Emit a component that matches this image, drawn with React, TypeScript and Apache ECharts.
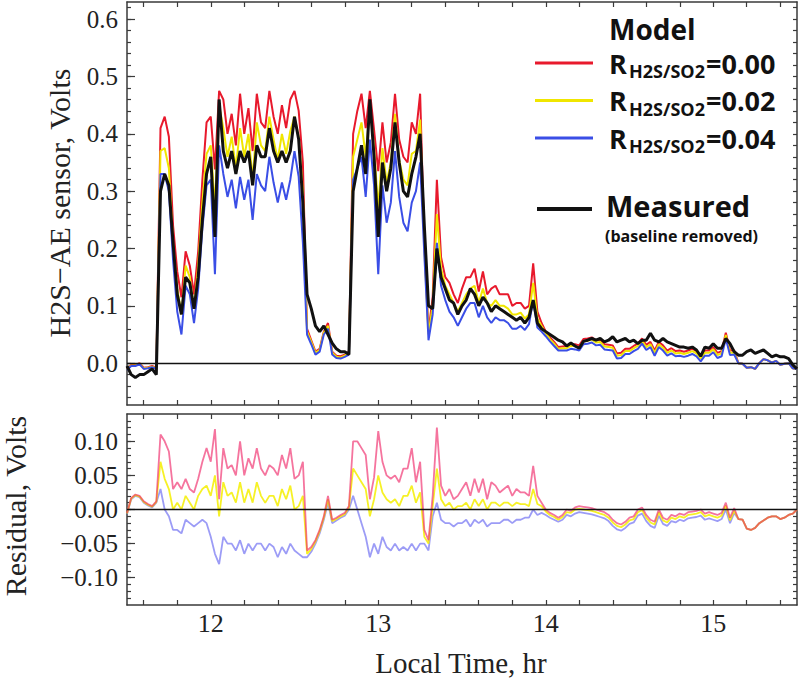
import React, { useEffect, useRef } from "react";
import * as echarts from "echarts";

// sampling of the time series (hours)
const T0 = 11.5;
const DT = 0.025;

// Measured H2S-AE sensor signal (baseline removed), Volts
const measured = [
  -0.005, -0.02, -0.025, -0.02, -0.02, -0.015, -0.01, -0.02,
  0.30, 0.33, 0.31, 0.21, 0.12, 0.085, 0.15, 0.14, 0.095, 0.15, 0.25, 0.33,
  0.36, 0.22, 0.46, 0.37, 0.34, 0.37, 0.33, 0.37, 0.35, 0.37,
  0.31, 0.38, 0.36, 0.36, 0.41, 0.37, 0.35, 0.37, 0.35, 0.37,
  0.43, 0.39, 0.28, 0.12, 0.095, 0.065, 0.055, 0.065, 0.05, 0.035,
  0.025, 0.02, 0.02, 0.015, 0.30, 0.34, 0.38, 0.33, 0.46, 0.36,
  0.22, 0.35, 0.30, 0.34, 0.42, 0.35, 0.30, 0.29, 0.33, 0.36,
  0.40, 0.24, 0.10, 0.095, 0.20, 0.15, 0.13, 0.11, 0.105, 0.085,
  0.10, 0.11, 0.13, 0.12, 0.10, 0.115, 0.105, 0.09, 0.10, 0.095,
  0.09, 0.085, 0.08, 0.075, 0.08, 0.07, 0.08, 0.11, 0.07, 0.06,
  0.055, 0.05, 0.045, 0.04, 0.037, 0.03, 0.035, 0.03, 0.026, 0.038,
  0.04, 0.043, 0.04, 0.043, 0.037, 0.04, 0.046, 0.037, 0.04, 0.043,
  0.037, 0.04, 0.034, 0.04, 0.04, 0.052, 0.04, 0.037, 0.043, 0.037,
  0.034, 0.031, 0.028, 0.028, 0.026, 0.028, 0.023, 0.012, 0.028, 0.026,
  0.034, 0.026, 0.026, 0.043, 0.034, 0.02, 0.014, 0.014, 0.02, 0.023,
  0.017, 0.02, 0.023, 0.017, 0.011, 0.014, 0.011, 0.011, 0.008, -0.003, -0.01,
];

// Residual (model - measured) for R = 0.00
const residual000 = [
  -0.005, 0.017, 0.022, 0.02, 0.012, 0.008, 0.005, 0.012,
  0.11, 0.10, 0.085, 0.03, 0.04, 0.03, 0.045, 0.03, 0.025, 0.045, 0.07, 0.09,
  0.07, 0.118, 0.015, 0.09, 0.06, 0.065, 0.05, 0.10, 0.05, 0.075,
  0.06, 0.09, 0.06, 0.05, 0.065, 0.06, 0.05, 0.08, 0.06, 0.09,
  0.045, 0.05, 0.07, -0.06, -0.055, -0.045, -0.03, -0.01, 0.02, -0.015,
  -0.012, -0.008, -0.005, 0.005, 0.10, 0.10, 0.09, 0.08, 0.015, 0.047,
  0.115, 0.07, 0.05, 0.045, 0.05, 0.04, 0.06, 0.06, 0.09, 0.04,
  0.07, -0.03, -0.045, 0.02, 0.12, 0.035, 0.02, 0.03, 0.015, 0.02,
  0.03, 0.04, 0.02, 0.045, 0.025, 0.045, 0.015, 0.04, 0.035, 0.025,
  0.03, 0.035, 0.02, 0.03, 0.025, 0.025, 0.02, 0.064, 0.02, 0.01,
  0.0, -0.005, -0.008, -0.012, -0.008, 0.0, -0.002, 0.003, 0.005, 0.004,
  0.003, 0.002, 0.0, -0.002, -0.004, -0.008, -0.015, -0.02, -0.022, -0.018,
  -0.012, -0.01, 0.0, 0.003, -0.008, -0.015, -0.018, 0.0, -0.012, -0.015,
  -0.008, -0.01, -0.006, -0.008, -0.004, -0.003, -0.002, 0.0, -0.006, -0.004,
  -0.006, -0.008, -0.005, 0.01, -0.012, 0.002, -0.014, -0.015, -0.028, -0.03,
  -0.027, -0.02, -0.016, -0.012, -0.01, -0.01, -0.014, -0.012, -0.008, -0.006, 0.0,
];

// Residual for R = 0.02
const residual002 = [
  -0.006, 0.016, 0.021, 0.019, 0.011, 0.007, 0.004, 0.011,
  0.07, 0.045, 0.03, 0.0, 0.01, 0.0, 0.02, 0.01, 0.0, 0.02, 0.03, 0.035,
  0.02, 0.05, -0.01, 0.04, 0.02, 0.025, 0.01, 0.04, 0.01, 0.03,
  0.01, 0.04, 0.02, 0.01, 0.02, 0.02, 0.005, 0.03, 0.015, 0.035,
  0.0, 0.005, 0.02, -0.065, -0.058, -0.047, -0.032, -0.012, 0.015, -0.017,
  -0.014, -0.01, -0.007, 0.003, 0.06, 0.05, 0.04, 0.03, -0.01, 0.015,
  0.05, 0.025, 0.015, 0.01, 0.015, 0.005, 0.02, 0.02, 0.035, 0.01,
  0.025, -0.04, -0.05, 0.005, 0.06, 0.015, 0.005, 0.01, 0.0, 0.005,
  0.005, 0.01, 0.0, 0.015, 0.005, 0.015, 0.0, 0.01, 0.01, 0.005,
  0.01, 0.01, 0.005, 0.01, 0.008, 0.008, 0.005, 0.03, 0.008, 0.005,
  -0.003, -0.008, -0.011, -0.015, -0.011, -0.004, -0.005, 0.0, 0.001, 0.0,
  -0.001, -0.002, -0.004, -0.006, -0.008, -0.012, -0.019, -0.024, -0.026, -0.022,
  -0.016, -0.014, -0.004, -0.001, -0.012, -0.019, -0.022, -0.004, -0.016, -0.019,
  -0.012, -0.014, -0.01, -0.012, -0.008, -0.007, -0.006, -0.004, -0.01, -0.008,
  -0.01, -0.012, -0.009, 0.006, -0.016, -0.002, -0.014, -0.015, -0.028, -0.03,
  -0.027, -0.02, -0.016, -0.012, -0.01, -0.01, -0.014, -0.012, -0.008, -0.006, 0.0,
];

// Residual for R = 0.04
const residual004 = [
  -0.007, 0.015, 0.02, 0.018, 0.01, 0.006, 0.003, 0.01,
  0.03, 0.0, -0.01, -0.03, -0.03, -0.035, -0.015, -0.02, -0.025, -0.02, -0.015, -0.02,
  -0.04, -0.065, -0.08, -0.04, -0.05, -0.05, -0.06, -0.045, -0.065, -0.05,
  -0.06, -0.05, -0.05, -0.06, -0.05, -0.055, -0.07, -0.055, -0.065, -0.05,
  -0.06, -0.065, -0.07, -0.07, -0.062, -0.05, -0.035, -0.015, 0.01, -0.02,
  -0.016, -0.012, -0.009, 0.0, 0.02, 0.0, -0.02, -0.04, -0.07, -0.05,
  -0.065, -0.04, -0.055, -0.06, -0.05, -0.06, -0.055, -0.06, -0.05, -0.06,
  -0.05, -0.05, -0.06, -0.01, 0.01, -0.015, -0.02, -0.02, -0.025, -0.02,
  -0.02, -0.015, -0.025, -0.015, -0.02, -0.015, -0.025, -0.02, -0.02, -0.02,
  -0.015, -0.015, -0.02, -0.015, -0.015, -0.012, -0.012, 0.0, -0.008, -0.005,
  -0.008, -0.012, -0.015, -0.018, -0.015, -0.008, -0.01, -0.006, -0.004, -0.005,
  -0.006, -0.007, -0.009, -0.011, -0.013, -0.017, -0.024, -0.029, -0.031, -0.027,
  -0.021, -0.019, -0.009, -0.006, -0.017, -0.024, -0.027, -0.009, -0.021, -0.024,
  -0.017, -0.019, -0.015, -0.017, -0.013, -0.012, -0.011, -0.009, -0.015, -0.013,
  -0.015, -0.017, -0.014, 0.0, -0.02, -0.005, -0.014, -0.015, -0.028, -0.03,
  -0.027, -0.02, -0.016, -0.012, -0.01, -0.01, -0.014, -0.012, -0.008, -0.006, 0.0,
];

// axis tick / label values
const xTickValues = [11.6, 11.8, 12, 12.2, 12.4, 12.6, 12.8, 13, 13.2, 13.4, 13.6, 13.8, 14, 14.2, 14.4, 14.6, 14.8, 15, 15.2, 15.4];
const xLabelValues = [12, 13, 14, 15];
const topYLabelValues = [0, 0.1, 0.2, 0.3, 0.4, 0.5, 0.6];
const bottomYLabelValues = [-0.1, -0.05, 0, 0.05, 0.1];

const legendNames = ["=0.00", "=0.02", "=0.04"];

const times = measured.map((_, i) => +(T0 + i * DT).toFixed(4));
const pairs = (vals: number[]) => vals.map((v, i) => [times[i], v]);
const modelFrom = (res: number[]) => measured.map((m, i) => +(m + res[i]).toFixed(4));

const stepValues = (from: number, to: number, step: number) => {
  const out: number[] = [];
  const n = Math.round((to - from) / step);
  for (let k = 0; k <= n; k++) out.push(+(from + k * step).toFixed(4));
  return out;
};
const topYMinor = stepValues(-0.06, 0.62, 0.02);
const bottomYMinor = stepValues(-0.13, 0.13, 0.01);

const FRAME = "#3a3a3a";
const SERIF = '"Liberation Serif", "Times New Roman", serif';
const SANS = '"Open Sans", "Noto Sans", sans-serif';

const RED = "#e8192c";
const YELLOW = "#f0e600";
const BLUE = "#3a4ee6";

export default function App() {
  const ref = useRef<HTMLDivElement>(null);

  useEffect(() => {
    document.body.style.margin = "0";
    if (!ref.current) return;
    const chart = echarts.init(ref.current, undefined, { renderer: "svg" });

    const lineStyle = { color: FRAME, width: 1.5 };
    const xAx = (gridIndex: number, position: string, labels: boolean) => ({
      type: "value",
      gridIndex,
      position,
      min: 11.5,
      max: 15.5,
      axisLine: { show: true, onZero: false, lineStyle },
      axisTick: { show: true, inside: true, length: 5, customValues: xTickValues, lineStyle: { color: FRAME, width: 1.2 } },
      axisLabel: labels
        ? { show: true, customValues: xLabelValues, fontFamily: SERIF, fontSize: 26, color: "#222", margin: 5, formatter: (v: number) => String(Math.round(v)) }
        : { show: false },
      splitLine: { show: false },
    });
    const yAx = (gridIndex: number, position: string, min: number, max: number, ticks: number[], len: number, labelVals: number[] | null, fmt: (v: number) => string, line: boolean) => ({
      type: "value",
      gridIndex,
      position,
      min,
      max,
      axisLine: { show: line, onZero: false, lineStyle },
      axisTick: { show: true, inside: true, length: len, customValues: ticks, lineStyle: { color: FRAME, width: 1.2 } },
      axisLabel: labelVals
        ? { show: true, customValues: labelVals, fontFamily: SERIF, fontSize: 25, color: "#222", margin: 9, formatter: fmt }
        : { show: false },
      splitLine: { show: false },
    });
    const fmtTop = (v: number) => v.toFixed(1);
    const fmtBottom = (v: number) => (v < -1e-9 ? "\u2212" : "") + Math.abs(v).toFixed(2);

    const TMIN = -0.073, TMAX = 0.63, BMIN = -0.14, BMAX = 0.14;

    const zeroLine = {
      silent: true,
      symbol: ["none", "none"],
      label: { show: false },
      lineStyle: { color: "#111", width: 1.3, type: "solid" },
      data: [{ yAxis: 0 }],
    };

    const topLine = (name: string, data: number[], color: string, width: number, extra: any = {}) => ({
      name,
      type: "line",
      xAxisIndex: 0,
      yAxisIndex: 0,
      data: pairs(data),
      showSymbol: false,
      symbol: "none",
      silent: true,
      lineStyle: { color, width },
      ...extra,
    });
    const botLine = (name: string, data: number[], color: string, opacity: number) => ({
      name,
      type: "line",
      xAxisIndex: 2,
      yAxisIndex: 3,
      data: pairs(data),
      showSymbol: false,
      symbol: "none",
      silent: true,
      lineStyle: { color, width: 1.8, opacity },
    });

    const legendRow = (i: number, color: string, y: number) => ([
      { type: "line", shape: { x1: 535, y1: y, x2: 593, y2: y }, style: { stroke: color, lineWidth: 3 } },
      { type: "text", x: 609, y: y, style: { text: "R", font: `bold 27px ${SANS}`, fill: "#111", align: "left", verticalAlign: "middle" } },
      { type: "text", x: 629, y: y + 8, style: { text: "H2S/SO2", font: `bold 18px ${SANS}`, fill: "#111", align: "left", verticalAlign: "middle" } },
      { type: "text", x: 706, y: y, style: { text: legendNames[i], font: `bold 27px ${SANS}`, fill: "#111", align: "left", verticalAlign: "middle" } },
    ]);

    chart.setOption({
      animation: false,
      backgroundColor: "#ffffff",
      grid: [
        { left: 127, right: 2, top: 2, height: 403, containLabel: false },
        { left: 127, right: 2, top: 414, height: 191, containLabel: false },
      ],
      xAxis: [xAx(0, "bottom", false), xAx(0, "top", false), xAx(1, "bottom", true), xAx(1, "top", false)],
      yAxis: [
        yAx(0, "left", TMIN, TMAX, topYMinor, 4, topYLabelValues, fmtTop, true),
        yAx(0, "left", TMIN, TMAX, topYLabelValues, 8, null, fmtTop, false),
        yAx(0, "right", TMIN, TMAX, topYMinor, 4, null, fmtTop, true),
        yAx(1, "left", BMIN, BMAX, bottomYMinor, 4, bottomYLabelValues, fmtBottom, true),
        yAx(1, "left", BMIN, BMAX, bottomYLabelValues, 8, null, fmtBottom, false),
        yAx(1, "right", BMIN, BMAX, bottomYMinor, 4, null, fmtBottom, true),
      ],
      series: [
        topLine("R=0.00", modelFrom(residual000), RED, 2, { markLine: zeroLine }),
        topLine("R=0.02", modelFrom(residual002), YELLOW, 2),
        topLine("R=0.04", modelFrom(residual004), BLUE, 2),
        topLine("Measured", measured, "#111", 3),
        botLine("Residual R=0.04", residual004, "#5a5af0", 0.6),
        botLine("Residual R=0.02", residual002, "#f5ee00", 0.85),
        { ...botLine("Residual R=0.00", residual000, "#f02a6a", 0.65), markLine: zeroLine },
      ],
      graphic: [
        { type: "text", x: 59, y: 203, rotation: Math.PI / 2, style: { text: "H2S\u2212AE sensor, Volts", font: `30px ${SERIF}`, fill: "#222", align: "center", verticalAlign: "middle" } },
        { type: "text", x: 15, y: 506, rotation: Math.PI / 2, style: { text: "Residual, Volts", font: `30px ${SERIF}`, fill: "#222", align: "center", verticalAlign: "middle" } },
        { type: "text", x: 461, y: 663, style: { text: "Local Time, hr", font: `29px ${SERIF}`, fill: "#222", align: "center", verticalAlign: "middle" } },
        { type: "text", x: 609, y: 29, style: { text: "Model", font: `bold 28px ${SANS}`, fill: "#111", align: "left", verticalAlign: "middle" } },
        ...legendRow(0, RED, 63),
        ...legendRow(1, YELLOW, 100.5),
        ...legendRow(2, BLUE, 138),
        { type: "line", shape: { x1: 537, y1: 209, x2: 592, y2: 209 }, style: { stroke: "#111", lineWidth: 4 } },
        { type: "text", x: 606, y: 205, style: { text: "Measured", font: `bold 29px ${SANS}`, fill: "#111", align: "left", verticalAlign: "middle" } },
        { type: "text", x: 605, y: 236, style: { text: "(baseline removed)", font: `bold 16px ${SANS}`, fill: "#111", align: "left", verticalAlign: "middle" } },
      ],
    });

    return () => chart.dispose();
  }, []);

  return <div ref={ref} style={{ width: 799, height: 681 }} />;
}
